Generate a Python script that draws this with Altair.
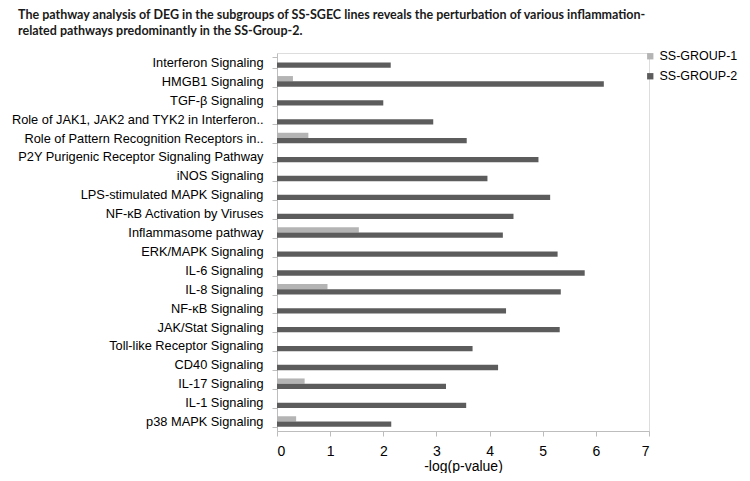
import altair as alt
import pandas as pd

pathways = [
    "Interferon Signaling",
    "HMGB1 Signaling",
    "TGF-β Signaling",
    "Role of JAK1, JAK2 and TYK2 in Interferon..",
    "Role of Pattern Recognition Receptors in..",
    "P2Y Purigenic Receptor Signaling Pathway",
    "iNOS Signaling",
    "LPS-stimulated MAPK Signaling",
    "NF-κB Activation by Viruses",
    "Inflammasome pathway",
    "ERK/MAPK Signaling",
    "IL-6 Signaling",
    "IL-8 Signaling",
    "NF-κB Signaling",
    "JAK/Stat Signaling",
    "Toll-like Receptor Signaling",
    "CD40 Signaling",
    "IL-17 Signaling",
    "IL-1 Signaling",
    "p38 MAPK Signaling",
]
group1 = [0, 0.30, 0, 0, 0.59, 0, 0, 0, 0, 1.54, 0, 0, 0.95, 0, 0, 0, 0, 0.52, 0, 0.36]
group2 = [2.14, 6.15, 2.00, 2.94, 3.57, 4.92, 3.96, 5.14, 4.45, 4.25,
          5.28, 5.79, 5.34, 4.31, 5.32, 3.68, 4.16, 3.18, 3.56, 2.15]
series = ["SS-GROUP-1", "SS-GROUP-2"]
colors = ["#b4b4b4", "#5c5c5c"]

rows = []
for p, a, b in zip(pathways, group1, group2):
    rows.append({"pathway": p, "group": series[0], "value": a})
    rows.append({"pathway": p, "group": series[1], "value": b})
df = pd.DataFrame(rows)

axis_color = "#bdbdbd"

chart = alt.Chart(df).mark_bar().encode(
    y=alt.Y("pathway:N", sort=pathways,
            scale=alt.Scale(paddingInner=0.44, paddingOuter=0.22),
            axis=alt.Axis(title=None, labelLimit=400, labelFont="Liberation Sans",
                          labelFontSize=12.8, labelColor="#000000", labelPadding=9,
                          domainColor=axis_color, tickColor=axis_color, tickSize=5,
                          tickBand="extent")),
    yOffset=alt.YOffset("group:N", sort=series,
                        scale=alt.Scale(paddingInner=0, paddingOuter=0)),
    x=alt.X("value:Q", scale=alt.Scale(domain=[0, 7], nice=False),
            axis=alt.Axis(title="-log(p-value)", values=[0, 1, 2, 3, 4, 5, 6, 7],
                          format="d", grid=False, labelFont="Liberation Sans",
                          labelFontSize=14, labelColor="#000000", labelPadding=8,
                          titleFont="Liberation Sans", titleFontSize=14,
                          titleFontWeight="normal", titleColor="#000000",
                          titlePadding=1,
                          domainColor=axis_color, tickColor=axis_color, tickSize=5)),
    color=alt.Color("group:N", sort=series,
                    scale=alt.Scale(domain=series, range=colors),
                    legend=alt.Legend(title=None, orient="none", legendX=367, legendY=-3,
                                      symbolType="square", symbolSize=40,
                                      symbolStrokeWidth=0, rowPadding=7,
                                      labelFont="Liberation Sans", labelFontSize=12.5,
                                      labelColor="#000000", labelOffset=3,
                                      labelLimit=300)),
).properties(
    width=372,
    height=378,
    autosize=alt.AutoSizeParams(type="none"),
    padding={"left": 269, "top": 45, "right": 93, "bottom": 42},
    title=alt.TitleParams(
        text=["The pathway analysis of DEG in the subgroups of SS-SGEC lines reveals the perturbation of various inflammation-",
              "related pathways predominantly in the SS-Group-2."],
        anchor="start", frame="group", dx=-259, offset=10,
        font="Lato", fontSize=12.5, fontWeight="bold", color="#1a1a1a",
        lineHeight=16,
    ),
).configure_view(stroke=None).configure(background="white")

chart.save("out.html", embed_options={"renderer": "svg", "actions": False})
